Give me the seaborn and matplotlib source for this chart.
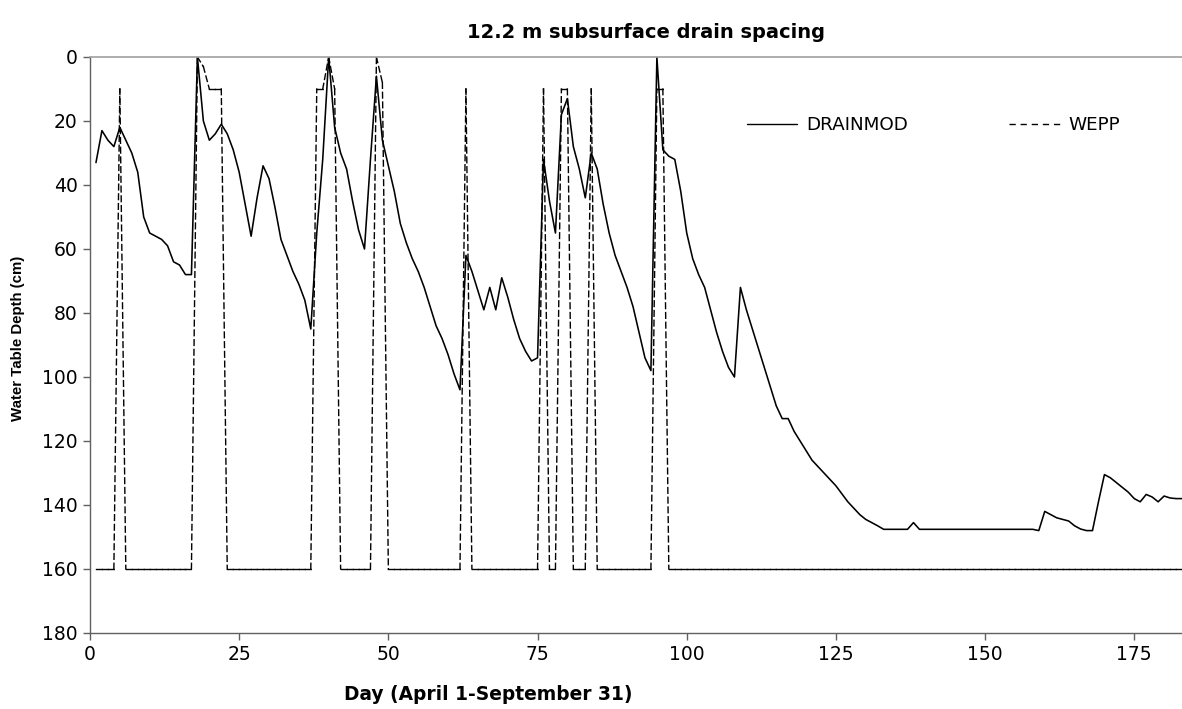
import numpy as np
import pandas as pd
import matplotlib
matplotlib.use("Agg")
import matplotlib.pyplot as plt
import seaborn as sns
from matplotlib.lines import Line2D

# ---------------- data ----------------
days = list(range(1, 184))

drainmod = [
    33, 23, 26, 28, 22, 26, 30, 36, 50, 55,          # 1-10
    56, 57, 59, 64, 65, 68, 68, 0, 20, 26,           # 11-20
    24, 21, 24, 29, 36, 46, 56, 44, 34, 38,          # 21-30
    47, 57, 62, 67, 71, 76, 85, 55, 32, 0,           # 31-40
    22, 30, 35, 45, 54, 60, 32, 6, 26, 34,           # 41-50
    42, 52, 58, 63, 67, 72, 78, 84, 88, 93,          # 51-60
    99, 104, 62, 67, 73, 79, 72, 79, 69, 75,         # 61-70
    82, 88, 92, 95, 94, 32, 45, 55, 18, 13,          # 71-80
    28, 35, 44, 30, 35, 46, 55, 62, 67, 72,          # 81-90
    78, 86, 94, 98, 0, 29, 31, 32, 42, 55,           # 91-100
    63, 68, 72, 79, 86, 92, 97, 100, 72, 79,         # 101-110
    85, 91, 97, 103, 109, 113, 113, 117, 120, 123,   # 111-120
    126, 128, 130, 132, 134, 136.5, 139, 141, 143, 144.5,  # 121-130
    145.5, 146.5, 147.6, 147.6, 147.6, 147.6, 147.6, 145.5, 147.6, 147.6,  # 131-140
    147.6, 147.6, 147.6, 147.6, 147.6, 147.6, 147.6, 147.6, 147.6, 147.6,  # 141-150
    147.6, 147.6, 147.6, 147.6, 147.6, 147.6, 147.6, 147.6, 148, 142,      # 151-160
    143, 144, 144.5, 145, 146.5, 147.5, 148, 148, 139, 130.5,              # 161-170
    131.5, 133, 134.5, 136, 138, 139, 136.7, 137.5, 139, 137.2,            # 171-180
    137.8, 138, 138,                                                       # 181-183
]

wepp = [
    160, 160, 160, 160, 10, 160, 160, 160, 160, 160,     # 1-10
    160, 160, 160, 160, 160, 160, 160, 0, 3, 10,         # 11-20
    10, 10, 160, 160, 160, 160, 160, 160, 160, 160,      # 21-30
    160, 160, 160, 160, 160, 160, 160, 10, 10, 0,        # 31-40
    10, 160, 160, 160, 160, 160, 160, 0, 8, 160,         # 41-50
    160, 160, 160, 160, 160, 160, 160, 160, 160, 160,    # 51-60
    160, 160, 10, 160, 160, 160, 160, 160, 160, 160,     # 61-70
    160, 160, 160, 160, 160, 10, 160, 160, 10, 10,       # 71-80
    160, 160, 160, 10, 160, 160, 160, 160, 160, 160,     # 81-90
    160, 160, 160, 160, 10, 10, 160, 160, 160, 160,      # 91-100
] + [160] * 83                                           # 101-183

series_names = ["DRAINMOD", "WEPP"]
title_text = "12.2 m subsurface drain spacing"
x_label = "Day (April 1-September 31)"
y_label = "Water Table Depth (cm)"
x_ticks = [0, 25, 50, 75, 100, 125, 150, 175]
y_ticks = [0, 20, 40, 60, 80, 100, 120, 140, 160, 180]

# ---------------- frames ----------------
df_drain = pd.DataFrame({"day": days, "depth": drainmod})
# WEPP drawn as one unit per daily segment (dash pattern restarts each day, as in the original)
seg_rows = []
for i in range(len(days) - 1):
    seg_rows.append({"seg": i, "day": days[i], "depth": wepp[i]})
    seg_rows.append({"seg": i, "day": days[i + 1], "depth": wepp[i + 1]})
df_wepp = pd.DataFrame(seg_rows)

# ---------------- style ----------------
sns.set_theme(style="white")
plt.rcParams["font.family"] = ["DejaVu Sans"]
plt.rcParams["text.color"] = "black"
plt.rcParams["axes.labelcolor"] = "black"
plt.rcParams["xtick.color"] = "black"
plt.rcParams["ytick.color"] = "black"

W, H = 1182, 709
fig = plt.figure(figsize=(W / 100, H / 100), dpi=100)
ax = fig.add_axes([90 / W, 1 - 633 / H, (W - 90) / W, (633 - 57) / H])

dash_pat = (0, (4.1, 2.9))

sns.lineplot(data=df_wepp, x="day", y="depth", units="seg", estimator=None,
             color="black", lw=1.0, linestyle=dash_pat, dash_capstyle="projecting",
             ax=ax, legend=False)
sns.lineplot(data=df_drain, x="day", y="depth", color="black", lw=1.15,
             ax=ax, legend=False)

ax.set_xlim(0, 183)
ax.set_ylim(180, 0)
ax.set_xticks(x_ticks)
ax.set_yticks(y_ticks)
ax.set_xlabel("")
ax.set_ylabel("")
ax.tick_params(axis="both", which="major", direction="out", length=5,
               width=1, color="#606060", labelsize=13.5, labelcolor="black", pad=4,
               left=True, bottom=True)
for s in ["left", "bottom"]:
    ax.spines[s].set_color("#606060")
    ax.spines[s].set_linewidth(1.0)
ax.spines["top"].set_color("#a0a0a0")
ax.spines["top"].set_linewidth(1.2)
ax.spines["right"].set_visible(False)
ax.grid(False)

# legend
handles = [Line2D([], [], color="black", lw=1.0),
           Line2D([], [], color="black", lw=1.0, linestyle=(0, (4.5, 3.5)))]
leg = ax.legend(handles, series_names, loc="center left", ncol=2, frameon=False,
                bbox_to_anchor=(747 / W, 1 - 125 / H), bbox_transform=fig.transFigure,
                borderpad=0, borderaxespad=0, handlelength=2.75, handletextpad=0.5,
                columnspacing=5.5, fontsize=13.2)

fig.text(646 / W, 1 - 33 / H, title_text, ha="center", va="center",
         fontsize=14, fontweight="bold")
fig.text(488 / W, 1 - 695 / H, x_label, ha="center", va="center",
         fontsize=13.4, fontweight="bold")
fig.text(18 / W, 1 - 338 / H, y_label, ha="center", va="center", rotation=90,
         fontsize=10.8, fontweight="bold", family=["Liberation Sans", "DejaVu Sans"])

fig.savefig("out.png", dpi=100, facecolor="white")
